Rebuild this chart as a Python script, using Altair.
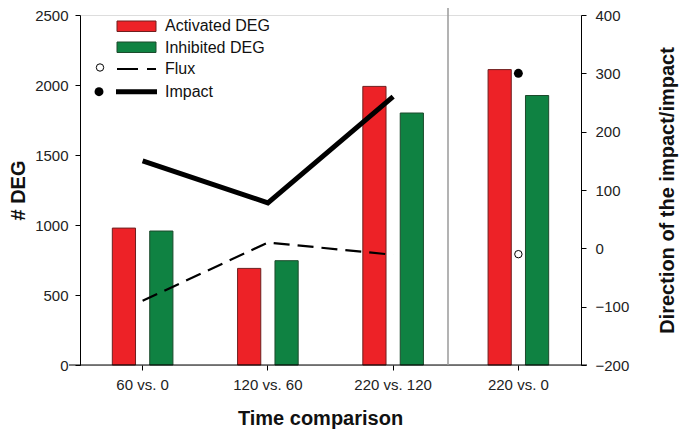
import altair as alt
import pandas as pd

# ---- data ----
categories = ["60 vs. 0", "120 vs. 60", "220 vs. 120", "220 vs. 0"]
activated = [978, 690, 1990, 2110]
inhibited = [957, 745, 1800, 1925]
line_categories = ["60 vs. 0", "120 vs. 60", "220 vs. 120"]
flux = [-90, 10, -11]
impact = [150, 78, 260]
point_category = "220 vs. 0"
point_flux = -10
point_impact = 300
series_names = ["Activated DEG", "Inhibited DEG"]
legend_labels = ["Activated DEG", "Inhibited DEG", "Flux", "Impact"]

RED = "#ED2227"
RED_EDGE = "#6E1F1F"
GREEN = "#0F8242"
GREEN_EDGE = "#1C4A2C"
FONT = "Liberation Sans"

W, H = 501, 350

bars_df = pd.DataFrame({
    "cat": categories * 2,
    "series": [series_names[0]] * 4 + [series_names[1]] * 4,
    "value": activated + inhibited,
})
lines_df = pd.DataFrame({
    "cat": line_categories * 2,
    "kind": ["Flux"] * 3 + ["Impact"] * 3,
    "dir": flux + impact,
})
pts_df = pd.DataFrame({
    "cat": [point_category, point_category],
    "kind": ["Flux", "Impact"],
    "dir": [point_flux, point_impact],
})
one = pd.DataFrame({"a": [0]})

xenc = alt.X("cat:N", sort=categories,
             scale=alt.Scale(paddingInner=0, paddingOuter=0),
             axis=alt.Axis(title="Time comparison", labelAngle=0, domain=False,
                           tickSize=5, tickColor="black", labelPadding=7,
                           labelFontSize=15, labelFont=FONT, labelColor="#222",
                           titleFont=FONT, titleFontSize=20, titleFontWeight="bold",
                           titlePadding=16, titleColor="#111", titleX=240,
                           titleAnchor="start", titleAlign="center"))

bars = alt.Chart(bars_df).mark_bar(strokeWidth=1).encode(
    x=xenc,
    xOffset=alt.XOffset("series:N", sort=series_names,
                        scale=alt.Scale(paddingInner=0.38, paddingOuter=0.864)),
    y=alt.Y("value:Q", scale=alt.Scale(domain=[0, 2500], nice=False),
            axis=alt.Axis(title="# DEG", orient="left", values=[0, 500, 1000, 1500, 2000, 2500],
                          format="d", grid=False, domainColor="black", tickColor="black", tickSize=5,
                          labelPadding=7, labelFontSize=15, labelFont=FONT, labelColor="#222",
                          titleFont=FONT, titleFontSize=20, titleFontWeight="bold",
                          titlePadding=6, titleColor="#111")),
    fill=alt.Fill("series:N", scale=alt.Scale(domain=series_names, range=[RED, GREEN]), legend=None),
    stroke=alt.Stroke("series:N", scale=alt.Scale(domain=series_names, range=[RED_EDGE, GREEN_EDGE]), legend=None),
)

yright = alt.Y("dir:Q", scale=alt.Scale(domain=[-200, 400], nice=False),
               axis=alt.Axis(title="Direction of the impact/impact", orient="right",
                             values=[-200, -100, 0, 100, 200, 300, 400],
                             grid=False, domainColor="black", tickColor="black", tickSize=5,
                             labelPadding=9, labelFontSize=15, labelFont=FONT, labelColor="#222",
                             titleFont=FONT, titleFontSize=20, titleFontWeight="bold",
                             titlePadding=49, titleColor="#111", titleAngle=270))

flux_line = alt.Chart(lines_df).transform_filter(alt.datum.kind == "Flux").mark_line(
    color="black", strokeWidth=2.2, strokeDash=[16, 8]).encode(x=alt.X("cat:N", sort=categories), y=yright)
impact_line = alt.Chart(lines_df).transform_filter(alt.datum.kind == "Impact").mark_line(
    color="black", strokeWidth=5).encode(x=alt.X("cat:N", sort=categories), y=yright)
flux_pt = alt.Chart(pts_df).transform_filter(alt.datum.kind == "Flux").mark_point(
    shape="circle", filled=False, fill="white", stroke="black", strokeWidth=1, size=55, opacity=1).encode(
    x=alt.X("cat:N", sort=categories), y=yright)
impact_pt = alt.Chart(pts_df).transform_filter(alt.datum.kind == "Impact").mark_point(
    shape="circle", filled=True, color="black", size=80, opacity=1).encode(
    x=alt.X("cat:N", sort=categories), y=yright)

right_layer = alt.layer(flux_line, impact_line, flux_pt, impact_pt)

base_rule = alt.Chart(one).mark_rule(color="black", strokeWidth=1).encode(
    x=alt.value(-11), x2=alt.value(W + 6), y=alt.value(H))
sep_rule = alt.Chart(one).mark_rule(color="#9a9a9a", strokeWidth=1.5).encode(
    x=alt.value(368), y=alt.value(-7), y2=alt.value(H))

# ---- legend ----
leg = []
row_y = [11, 32.7, 54, 76.7]
leg.append(alt.Chart(one).mark_rect(fill=RED, stroke=RED_EDGE, strokeWidth=1).encode(
    x=alt.value(37), x2=alt.value(76), y=alt.value(6), y2=alt.value(16.5)))
leg.append(alt.Chart(one).mark_rect(fill=GREEN, stroke=GREEN_EDGE, strokeWidth=1).encode(
    x=alt.value(37), x2=alt.value(76), y=alt.value(27), y2=alt.value(37.5)))
leg.append(alt.Chart(one).mark_rule(color="black", strokeWidth=2.2, strokeDash=[21, 9]).encode(
    x=alt.value(37), x2=alt.value(76), y=alt.value(row_y[2])))
leg.append(alt.Chart(one).mark_rule(color="black", strokeWidth=5).encode(
    x=alt.value(36), x2=alt.value(77), y=alt.value(row_y[3])))
leg.append(alt.Chart(one).mark_point(shape="circle", filled=False, fill="white", stroke="black",
                                     strokeWidth=1, size=55, opacity=1).encode(
    x=alt.value(20), y=alt.value(row_y[2] - 1.5)))
leg.append(alt.Chart(one).mark_point(shape="circle", filled=True, color="black", size=80, opacity=1).encode(
    x=alt.value(19), y=alt.value(row_y[3])))
for lab, yy in zip(legend_labels, row_y):
    leg.append(alt.Chart(one).mark_text(align="left", baseline="middle", font=FONT, fontSize=16,
                                        color="#111").encode(
        x=alt.value(85), y=alt.value(yy), text=alt.value(lab)))

chart = alt.layer(
    alt.layer(bars, base_rule, sep_rule),
    right_layer,
    *leg,
).resolve_scale(y="independent").properties(
    width=W, height=H,
    autosize=alt.AutoSizeParams(type="none"),
    padding={"left": 72, "top": 7, "right": 98, "bottom": 66},
).configure_view(stroke=None).configure(background="white")

chart.save("out.html", embed_options={"renderer": "svg", "actions": False})
